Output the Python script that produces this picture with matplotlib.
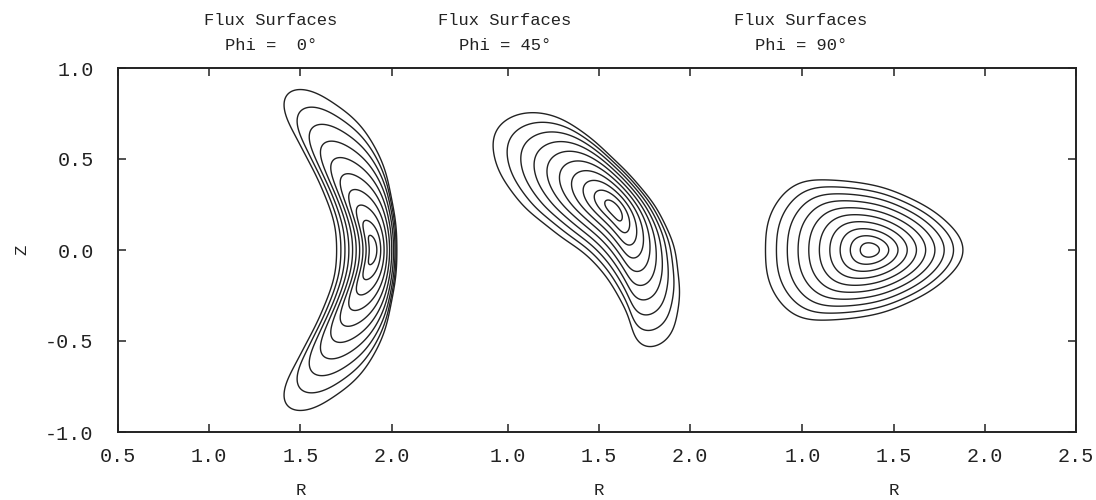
"""
Flux surfaces at three toroidal angles, drawn side by side in one frame
"""
import numpy as np
import matplotlib
matplotlib.use("Agg")
import matplotlib.pyplot as plt
from matplotlib.transforms import blended_transform_factory

# ---- data ----------------------------------------------------------------
phi_deg = [0, 45, 90]

# outer surface, phi = 0 (upper half, mirrored below)
r0_upper = [2.03, 2.005, 1.94, 1.83, 1.68, 1.57, 1.48, 1.43, 1.41, 1.445, 1.54, 1.63, 1.68, 1.70]
z0_upper = [0.00, 0.26, 0.50, 0.68, 0.81, 0.865, 0.88, 0.865, 0.81, 0.68, 0.50, 0.31, 0.165, 0.00]
axis0 = (1.895, 0.0)

# outer surface, phi = 45 (full loop)
r45 = [1.94, 1.91, 1.82, 1.68, 1.46, 1.29, 1.126, 0.98, 0.92, 0.96, 1.09, 1.27, 1.46,
       1.60, 1.68, 1.72, 1.785, 1.88, 1.93]
z45 = [-0.20, 0.02, 0.22, 0.40, 0.61, 0.72, 0.755, 0.705, 0.59, 0.42, 0.24, 0.09, -0.055,
       -0.24, -0.42, -0.51, -0.53, -0.48, -0.35]
axis45 = (1.585, 0.22)

# outer surface, phi = 90 (upper half, mirrored below)
r90_upper = [1.88, 1.86, 1.78, 1.64, 1.45, 1.27, 1.10, 0.995, 0.90, 0.82, 0.797]
z90_upper = [0.00, 0.07, 0.165, 0.26, 0.34, 0.375, 0.385, 0.37, 0.31, 0.18, 0.00]
axis90 = (1.37, 0.0)

# normalised radius of the drawn surfaces
rho = [0.1, 0.2, 0.3, 0.4, 0.5, 0.6, 0.7, 0.8, 0.9, 1.0]

r_ticks = [[0.5, 1.0, 1.5, 2.0], [1.0, 1.5, 2.0], [1.0, 1.5, 2.0, 2.5]]
z_ticks = [-1.0, -0.5, 0.0, 0.5, 1.0]

# ---- layout ---------------------------------------------------------------
r_shift = [0.0, 1.637, 3.253]   # where each panel sits along the shared axis
INK = "#222222"
MONO = "Liberation Mono"


def mirror(r_up, z_up):
    r = list(r_up) + list(r_up[-2:0:-1])
    z = list(z_up) + [-v for v in z_up[-2:0:-1]]
    return np.array(r), np.array(z)


def closed_spline(r, z, n_seg=40):
    """Catmull-Rom through the read points, closed."""
    p = np.column_stack([r, z])
    m = len(p)
    t = np.linspace(0, 1, n_seg, endpoint=False)[:, None]
    out = []
    for i in range(m):
        p0, p1, p2, p3 = p[i - 1], p[i], p[(i + 1) % m], p[(i + 2) % m]
        out.append(0.5 * (2 * p1 + (-p0 + p2) * t + (2 * p0 - 5 * p1 + 4 * p2 - p3) * t ** 2
                          + (-p0 + 3 * p1 - 3 * p2 + p3) * t ** 3))
    return np.vstack(out)


def nested(r, z, axis, levels, n=512, n_harm=14):
    pts = closed_spline(r, z)
    pts = np.vstack([pts, pts[:1]])
    s = np.concatenate([[0], np.cumsum(np.hypot(*np.diff(pts, axis=0).T))])
    su = np.linspace(0, s[-1], n, endpoint=False)
    zc = np.interp(su, s, pts[:, 0]) + 1j * np.interp(su, s, pts[:, 1])
    c = np.fft.fft(zc) / n
    k = np.abs(np.fft.fftfreq(n, 1.0 / n))
    c[k > n_harm] = 0
    expo = np.where(k > 0, 1 + 0.3 * (k - 1), 0)
    ax_c = axis[0] + 1j * axis[1]
    curves = []
    for lv in levels:
        cc = c * lv ** expo
        cc[0] = ax_c + (c[0] - ax_c) * lv ** 1.6
        w = np.fft.ifft(cc) * n
        curves.append(np.column_stack([w.real, w.imag]))
    return curves


r0, z0 = mirror(r0_upper, z0_upper)
r90, z90 = mirror(r90_upper, z90_upper)
shapes = [(r0, z0, axis0), (np.array(r45), np.array(z45), axis45), (r90, z90, axis90)]

fig = plt.figure(figsize=(10.96, 5.0), dpi=100)
ax = fig.add_axes([118 / 1096, 1 - 432 / 500, 958 / 1096, 364 / 500])

for (r, z, axis), off in zip(shapes, r_shift):
    for cv in nested(r, z, axis, rho):
        ax.fill(cv[:, 0] + off, cv[:, 1], fill=False, edgecolor=INK, lw=1.0)

ax.set_xlim(0.5, r_ticks[2][-1] + r_shift[2])
ax.set_ylim(-1.0, 1.0)

xt, xl = [], []
for ticks, off in zip(r_ticks, r_shift):
    for t in ticks:
        xt.append(t + off)
        xl.append("%.1f" % t)
ax.set_xticks(xt)
ax.set_xticklabels(xl)
ax.set_yticks(z_ticks)
ax.set_yticklabels(["%.1f" % v for v in z_ticks])

ax.tick_params(direction="in", length=6, width=1.1, color=INK, top=True, right=True,
               labelsize=14.5, labelcolor=INK)
ax.tick_params(axis="x", pad=11)
ax.tick_params(axis="y", pad=17.5)
for lab in ax.get_xticklabels() + ax.get_yticklabels():
    lab.set_family(MONO)
for sp in ax.spines.values():
    sp.set_linewidth(1.4)
    sp.set_color(INK)

trans = blended_transform_factory(ax.transData, ax.transAxes)
for off in r_shift:
    ax.text(1.5 + off, -0.16, "R", transform=trans, ha="center", va="center",
            family=MONO, fontsize=12.5, color=INK)
ax.text(-0.1, 0.5, "Z", transform=ax.transAxes, rotation=90, ha="center", va="center",
        family=MONO, fontsize=12.5, color=INK)

title_x = [271, 505, 801]
for phi, tx in zip(phi_deg, title_x):
    fig.text(tx / 1096, 1 - 33 / 500, "Flux Surfaces\nPhi = %2d°" % phi, ha="center", va="center",
             multialignment="center", family=MONO, fontsize=12.3, color=INK, linespacing=1.8)

fig.savefig("out.png", dpi=100)
